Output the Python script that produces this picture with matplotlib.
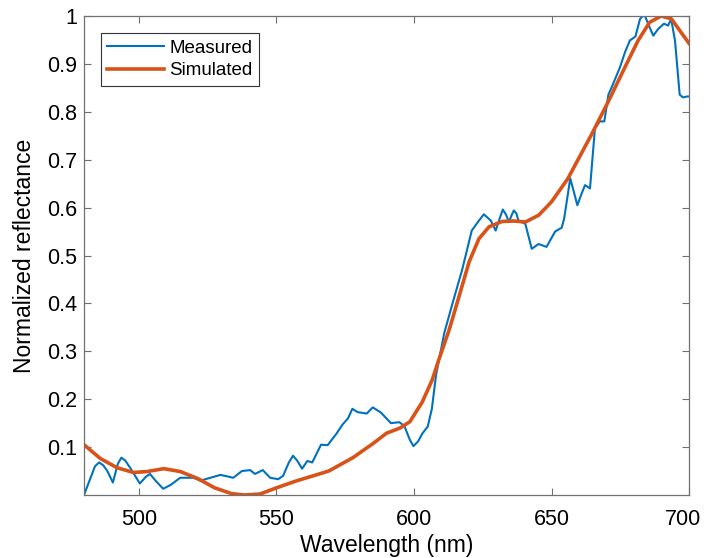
import matplotlib
matplotlib.use("Agg")
import matplotlib.pyplot as plt
import matplotlib.transforms as mtransforms

plt.rcParams['font.family'] = ['Liberation Sans', 'DejaVu Sans']

meas_x = [480, 482, 484, 485.5, 487, 488.5, 490.5, 492.3, 493.6, 495, 497, 500.3, 502.5, 504, 506,
          508.8, 511.5, 515, 519.8, 522.3,
          526, 529.6, 534.3, 537.4, 540.4, 542.2, 545, 547.7, 550.6, 552.4, 554.5, 556, 557.5, 559.3, 561.2,
          563, 566.2, 568.6, 571.8, 574, 576, 577.6, 579.5, 582.8, 585, 588, 591.6, 594.7, 596.5,
          598.5, 599.8, 601.5, 603, 605, 606.5, 608, 611, 614, 617.5, 621, 623.5, 625.4, 627.9, 629.7, 631,
          632.3, 633.5, 634.5, 635.5, 636.3, 637.2,
          638, 640.5, 642.8, 645.3, 648.2, 651.3, 653.7, 654.6, 656, 656.8, 657.8, 659.4, 661, 662.2, 664, 665.8,
          667.6, 669.2, 670.7, 671.8, 674.9, 676.7, 678.5, 680.5, 682.2, 683.2, 684, 685.1, 687, 688.8,
          690.9, 692.4, 693.5, 694.9, 696.6, 697.8, 699.3, 700]
meas_y = [0.0, 0.03, 0.06, 0.068, 0.062, 0.05, 0.026, 0.065, 0.078, 0.072, 0.055, 0.024, 0.038, 0.044, 0.03,
          0.013, 0.021, 0.036, 0.036, 0.03,
          0.036, 0.042, 0.036, 0.05, 0.052, 0.044, 0.052, 0.036, 0.033, 0.04, 0.068, 0.082, 0.072, 0.055, 0.071,
          0.068, 0.105, 0.104, 0.128, 0.147, 0.16, 0.18, 0.173, 0.17, 0.183, 0.172, 0.15, 0.152, 0.144,
          0.115, 0.102, 0.112, 0.128, 0.143, 0.18, 0.25, 0.338, 0.4, 0.47, 0.552, 0.572, 0.586, 0.573, 0.552, 0.575,
          0.596, 0.585, 0.57, 0.584, 0.594, 0.588,
          0.573, 0.566, 0.514, 0.524, 0.518, 0.55, 0.558, 0.577, 0.63, 0.661, 0.64, 0.605, 0.63, 0.647, 0.64, 0.766,
          0.78, 0.78, 0.836, 0.85, 0.893, 0.924, 0.949, 0.957, 0.994, 1.0, 1.0, 0.984, 0.959, 0.973,
          0.984, 0.98, 0.994, 0.949, 0.836, 0.83, 0.832, 0.832]

sim_x = [480, 486, 492, 498, 503, 509, 515, 521.5, 527.5, 533.6, 538.3, 544, 550, 557, 561, 569,
         577.8, 585, 590, 595, 598.5, 603, 606.6, 609, 612.8, 616.4, 620, 623.6, 627.3, 632, 636.3,
         640.5, 645.3, 650, 656, 658.6, 664.5, 670.7, 676.7, 681.5, 685.7, 689.9, 693.6, 696.6, 700]
sim_y = [0.105, 0.076, 0.057, 0.047, 0.049, 0.055, 0.049, 0.034, 0.015, 0.003, 0.0, 0.002, 0.015,
         0.029, 0.036, 0.05, 0.078, 0.107, 0.129, 0.14, 0.153, 0.194, 0.24, 0.282, 0.345, 0.415,
         0.486, 0.535, 0.56, 0.571, 0.572, 0.57, 0.584, 0.612, 0.661, 0.689, 0.752, 0.822, 0.893,
         0.949, 0.987, 1.0, 0.994, 0.97, 0.943]

xticks = [500, 550, 600, 650, 700]
yticks = [0.1, 0.2, 0.3, 0.4, 0.5, 0.6, 0.7, 0.8, 0.9, 1.0]
ytick_labels = ['0.1', '0.2', '0.3', '0.4', '0.5', '0.6', '0.7', '0.8', '0.9', '1']

fig = plt.figure(figsize=(7.04, 5.58), dpi=100)
ax = fig.add_axes([0.1193, 0.1129, 0.8594, 0.8584])
ax.plot(meas_x, meas_y, color='#0072BD', lw=1.5, label='Measured', solid_joinstyle='round')
ax.plot(sim_x, sim_y, color='#D95319', lw=2.6, label='Simulated', solid_joinstyle='round')
ax.set_xlim(480, 700)
ax.set_ylim(0, 1)
ax.set_xticks(xticks)
ax.set_yticks(yticks)
ax.set_yticklabels(ytick_labels)
gray = '#707070'
for s in ax.spines.values():
    s.set_color(gray)
    s.set_linewidth(0.9)
ax.tick_params(direction='in', top=True, right=True, color=gray, labelsize=15.5, length=5)
ax.tick_params(axis='x', pad=10)
ax.tick_params(axis='y', pad=5)
# nudge the last x tick label left, as in the reference
lbl = ax.get_xticklabels()[-1]
lbl.set_transform(lbl.get_transform() + mtransforms.ScaledTranslation(-6/100, 0, fig.dpi_scale_trans))
ax.set_xlabel('Wavelength (nm)', fontsize=16.5, labelpad=3)
ax.set_ylabel('Normalized reflectance', fontsize=16.5, labelpad=8)
leg = ax.legend(loc='upper left', fontsize=13.5, frameon=True, fancybox=False,
                edgecolor='#333333', framealpha=1, borderpad=0.35, handlelength=3.0,
                handletextpad=0.3, labelspacing=0.3, borderaxespad=0.9)
leg.get_frame().set_linewidth(0.8)
fig.savefig('out.png', dpi=100)
